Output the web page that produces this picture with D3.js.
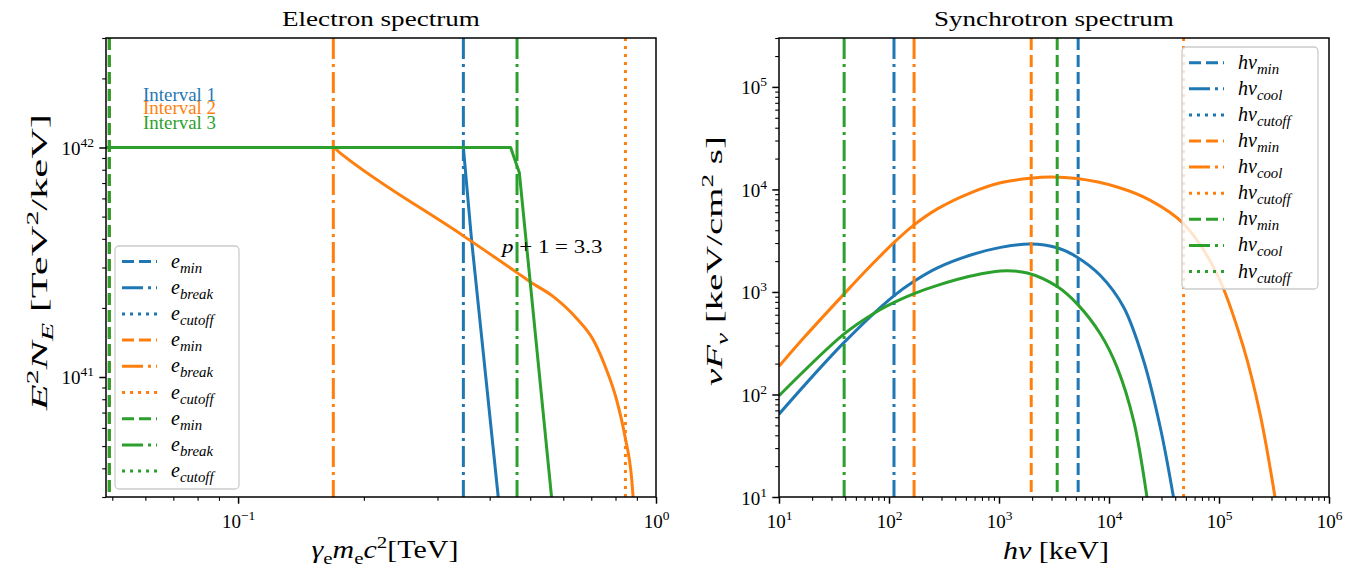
<!DOCTYPE html>
<html>
<head>
<meta charset="utf-8">
<script src="https://cdn.jsdelivr.net/npm/d3@7"></script>
<style>
  body { margin: 0; background: #fff; }
  svg text { font-family: "Liberation Serif", "DejaVu Serif", serif; fill: #000; }
</style>
</head>
<body>
<svg id="fig" width="1364" height="578"></svg>
<script>
// values
const colors = ['#1f77b4', '#ff7f0e', '#2ca02c']
const intervalNames = ['Interval 1', 'Interval 2', 'Interval 3']

// electron spectrum: E [TeV] vs E^2 N_E
const elecE1 = [0.0483, 0.346, 0.362, 0.4196]
const elecF1 = [1e42, 1e42, 3.95e41, 2.96e40]
const elecE2 = [0.0483, 0.169, 0.175, 0.346, 0.465, 0.4995, 0.568, 0.646, 0.708, 0.762, 0.805, 0.843, 0.875, 0.882]
const elecF2 = [1e42, 1e42, 9.5e41, 4.12e41, 2.85e41, 2.60e41, 2.24e41, 1.80e41, 1.45e41, 1.07e41, 7.94e40, 5.50e40, 3.56e40, 2.96e40]
const elecE3 = [0.0483, 0.449, 0.471, 0.5628]
const elecF3 = [1e42, 1e42, 7.76e41, 2.96e40]
// vertical markers per interval (null = outside the plotted range)
const eMin = [0.0492, 0.0492, 0.0492]
const eBreak = [0.346, 0.169, 0.465]
const eCutoff = [null, 0.845, null]

// synchrotron spectrum: h nu [keV] vs nu F_nu
const synE1 = [10, 39.1, 111.3, 169, 275.6, 552.5, 1034, 1936, 3381, 5134, 8356, 13596, 20646, 29270, 38650]
const synF1 = [64.3, 322, 922, 1273, 1720, 2291, 2723, 2938, 2698, 2184, 1446, 709, 213.5, 47.6, 9.84]
const synE2 = [10, 16.96, 39.1, 64.4, 111.3, 169, 275.6, 552.5, 1034, 1936, 2938, 5134, 11846, 23750, 47640, 95720, 166900, 236500, 323600]
const synF2 = [188, 361, 958, 1693, 3040, 4508, 6462, 9266, 11600, 12840, 13222, 12755, 10557, 7826, 4632, 1502, 288, 64.3, 9.84]
const synE3 = [10, 39.1, 73.2, 111.3, 169, 275.6, 552.5, 1034, 1806, 3381, 5134, 8356, 11846, 16755, 22170]
const synF3 = [97.1, 390, 621, 791, 964, 1159, 1429, 1603, 1531, 1130, 765, 389, 184, 55.3, 9.84]
const nuMin = [5244, 1963, 3381]
const nuCool = [111, 169, 39.1]
const nuCutoff = [null, 47640, null]

const elecTicksX = [-1, 0]
const elecTicksY = [41, 42]
const synTicksX = [1, 2, 3, 4, 5, 6]
const synTicksY = [1, 2, 3, 4, 5]

const svg = d3.select('#fig')
const dashes = { dashed: '12,5', dashdot: '21,5,3,5', dotted: '3,5' }

// text with italic / sub / super pieces: [string, flags]
function mathText(parent, parts, size, ratio = 0.7) {
    const t = parent.append('text').attr('font-size', size)
    let shift = 0
    parts.forEach(([s, f = '']) => {
        const small = f.includes('^') || f.includes('_')
        const target = f.includes('^') ? -0.4 * size : f.includes('_') ? 0.25 * size : 0
        const sp = t.append('tspan').text(s)
            .attr('dy', target - shift)
            .attr('font-size', small ? size * ratio : size)
        if (f.includes('i')) sp.attr('font-style', 'italic')
        shift = target
    })
    return t
}

// centre a text on (cx, cy), stretched to width w along its direction
function place(t, cx, cy, w, rot = 0, anchor = 'middle') {
    const b = t.node().getBBox()
    const k = w ? w / b.width : 1
    const ox = anchor === 'start' ? b.x : b.x + b.width / 2
    t.attr('transform', `translate(${cx},${cy}) rotate(${rot}) scale(${k},1) translate(${-ox},${-(b.y + b.height / 2)})`)
}

function powLabel(sel, exp) {
    sel.text(null)
    sel.append('tspan').text('10')
    sel.append('tspan').attr('font-size', 13.5).attr('dy', -8).text(String(exp).replace('-', '\u2212'))
}

const isMajor = v => Math.abs(Math.log10(v) - Math.round(Math.log10(v))) < 1e-6

function drawPanel(cfg) {
    const { x0, x1, y0, y1 } = cfg.box
    const x = d3.scaleLog().domain(cfg.xDomain).range([x0, x1])
    const y = d3.scaleLog().domain(cfg.yDomain).range([y1, y0])
    const g = svg.append('g')

    svg.append('clipPath').attr('id', cfg.id + '-clip')
        .append('rect').attr('x', x0).attr('y', y0).attr('width', x1 - x0).attr('height', y1 - y0)
    const plot = g.append('g').attr('clip-path', `url(#${cfg.id}-clip)`)

    cfg.series.forEach((s, i) => {
        const line = d3.line().x(d => x(d[0])).y(d => y(d[1])).curve(s.curve)
        plot.append('path')
            .datum(d3.zip(s.e, s.f))
            .attr('d', line)
            .attr('fill', 'none')
            .attr('stroke', colors[i])
            .attr('stroke-width', 3)
            .attr('stroke-linejoin', 'round')
        cfg.vlines.forEach(v => {
            const val = v.values[i]
            if (val == null) return
            plot.append('line')
                .attr('x1', x(val)).attr('x2', x(val))
                .attr('y1', y0).attr('y2', y1)
                .attr('stroke', colors[i])
                .attr('stroke-width', 3)
                .attr('stroke-dasharray', dashes[v.style])
        })
    })

    // minor + major ticks
    const minorX = x.ticks().filter(v => !isMajor(v))
    const minorY = y.ticks().filter(v => !isMajor(v))
    g.append('g').attr('transform', `translate(0,${y1})`)
        .call(d3.axisBottom(x).tickValues(minorX).tickSize(3.8).tickFormat(''))
        .call(a => a.select('.domain').remove())
        .selectAll('line').attr('stroke-width', 1.1)
    g.append('g').attr('transform', `translate(${x0},0)`)
        .call(d3.axisLeft(y).tickValues(minorY).tickSize(3.8).tickFormat(''))
        .call(a => a.select('.domain').remove())
        .selectAll('line').attr('stroke-width', 1.1)

    const ax = g.append('g').attr('transform', `translate(0,${y1})`)
        .call(d3.axisBottom(x).tickValues(cfg.ticksX.map(e => Math.pow(10, e))).tickSize(6.7).tickFormat(''))
        .call(a => a.select('.domain').remove())
    ax.selectAll('line').attr('stroke-width', 1.5)
    ax.selectAll('.tick text')
        .attr('y', 31).attr('dy', 0)
        .attr('font-size', 19).attr('font-family', null)
        .each(function (d) { powLabel(d3.select(this), Math.round(Math.log10(d))) })

    const ay = g.append('g').attr('transform', `translate(${x0},0)`)
        .call(d3.axisLeft(y).tickValues(cfg.ticksY.map(e => Math.pow(10, e))).tickSize(6.7).tickFormat(''))
        .call(a => a.select('.domain').remove())
    ay.selectAll('line').attr('stroke-width', 1.5)
    ay.selectAll('.tick text')
        .attr('x', -12).attr('dy', 7)
        .attr('font-size', 19).attr('font-family', null)
        .each(function (d) { powLabel(d3.select(this), Math.round(Math.log10(d))) })

    g.append('rect')
        .attr('x', x0).attr('y', y0).attr('width', x1 - x0).attr('height', y1 - y0)
        .attr('fill', 'none').attr('stroke', '#000').attr('stroke-width', 1.5)

    const title = mathText(g, [[cfg.title]], 22)
    place(title, (x0 + x1) / 2, 18, cfg.titleW)

    return { g, x, y }
}

function drawLegend(g, cfg) {
    const { x0, y0, w, h } = cfg.frame
    const lg = g.append('g')
    lg.append('rect')
        .attr('x', x0).attr('y', y0).attr('width', w).attr('height', h)
        .attr('rx', 4)
        .attr('fill', '#fff').attr('fill-opacity', 0.8)
        .attr('stroke', '#cccccc').attr('stroke-width', 1.3)
    const rows = []
    colors.forEach((c, i) => cfg.labels.forEach((lab, j) => rows.push({ c, lab, style: cfg.styles[j] })))
    rows.forEach((r, k) => {
        const ry = cfg.rowY + k * cfg.step
        lg.append('line')
            .attr('x1', x0 + 7).attr('x2', x0 + 42)
            .attr('y1', ry).attr('y2', ry)
            .attr('stroke', r.c).attr('stroke-width', 3)
            .attr('stroke-dasharray', dashes[r.style])
        const t = mathText(lg, r.lab, 20, 0.74)
        t.attr('x', x0 + 56).attr('y', ry + 6)
    })
}

// ---- left panel: electron spectrum ----
const left = drawPanel({
    id: 'elec',
    box: { x0: 106, x1: 656, y0: 38, y1: 497 },
    xDomain: [0.0483, 1], yDomain: [3e40, 3e42],
    ticksX: elecTicksX, ticksY: elecTicksY,
    title: 'Electron spectrum', titleW: 198,
    series: [
        { e: elecE1, f: elecF1, curve: d3.curveLinear },
        { e: elecE2, f: elecF2, curve: d3.curveMonotoneX },
        { e: elecE3, f: elecF3, curve: d3.curveLinear }
    ],
    vlines: [
        { values: eMin, style: 'dashed' },
        { values: eBreak, style: 'dashdot' },
        { values: eCutoff, style: 'dotted' }
    ]
})

intervalNames.forEach((name, i) => {
    const t = left.g.append('text').attr('font-size', 18).text(name)
    t.style('fill', colors[i])
    place(t, 143, [95, 108, 123][i], 73, 0, 'start')
})

const ann = mathText(left.g, [['p', 'i'], [' + 1 = 3.3']], 18)
place(ann, 551, 247, 103)

const lxl = mathText(left.g, [['\u03b3', 'i'], ['e', '_'], ['m', 'i'], ['e', '_'], ['c', 'i'], ['2', '^'], ['[TeV]']], 25)
place(lxl, 385, 550, 147)
const lyl = mathText(left.g, [['E', 'i'], ['2', '^'], ['N', 'i'], ['E', 'i_'], [' [TeV'], ['2', '^'], ['/keV]']], 24)
place(lyl, 40, 263, 298, -90)

drawLegend(left.g, {
    frame: { x0: 115, y0: 246, w: 124, h: 243 },
    rowY: 261.5, step: 26.2,
    styles: ['dashed', 'dashdot', 'dotted'],
    labels: [
        [['e', 'i'], ['min', 'i_']],
        [['e', 'i'], ['break', 'i_']],
        [['e', 'i'], ['cutoff', 'i_']]
    ]
})

// ---- right panel: synchrotron spectrum ----
const right = drawPanel({
    id: 'syn',
    box: { x0: 779, x1: 1329, y0: 38, y1: 497 },
    xDomain: [10, 1e6], yDomain: [10, 3e5],
    ticksX: synTicksX, ticksY: synTicksY,
    title: 'Synchrotron spectrum', titleW: 240,
    series: [
        { e: synE1, f: synF1, curve: d3.curveCatmullRom },
        { e: synE2, f: synF2, curve: d3.curveCatmullRom },
        { e: synE3, f: synF3, curve: d3.curveCatmullRom }
    ],
    vlines: [
        { values: nuMin, style: 'dashed' },
        { values: nuCool, style: 'dashdot' },
        { values: nuCutoff, style: 'dotted' }
    ]
})

const rxl = mathText(right.g, [['h\u03bd', 'i'], [' [keV]']], 25)
place(rxl, 1056, 550, 106)
const ryl = mathText(right.g, [['\u03bdF', 'i'], ['\u03bd', 'i_'], [' [keV/cm'], ['2', '^'], [' s]']], 24)
place(ryl, 715, 261, 250, -90)

drawLegend(right.g, {
    frame: { x0: 1182, y0: 47, w: 136, h: 242 },
    rowY: 62.7, step: 26.1,
    styles: ['dashed', 'dashdot', 'dotted'],
    labels: [
        [['h\u03bd', 'i'], ['min', 'i_']],
        [['h\u03bd', 'i'], ['cool', 'i_']],
        [['h\u03bd', 'i'], ['cutoff', 'i_']]
    ]
})
</script>
</body>
</html>
